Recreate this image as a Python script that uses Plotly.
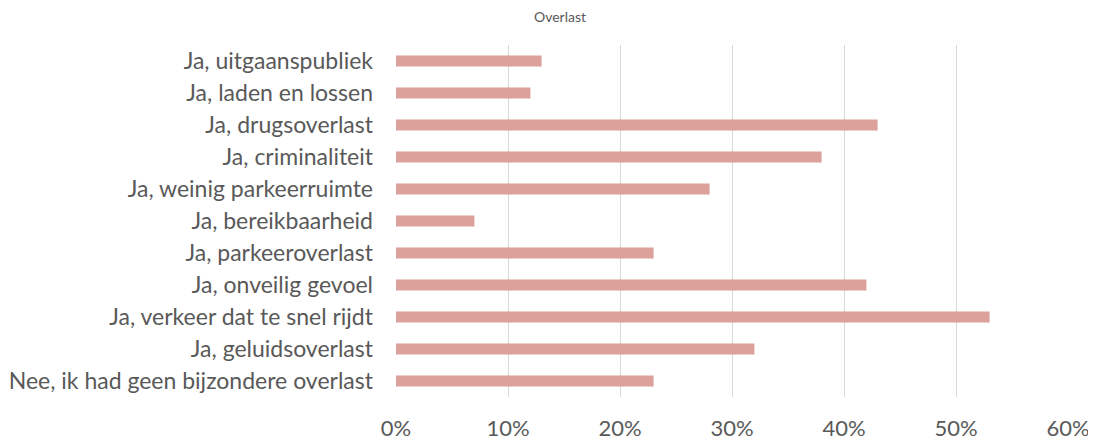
import plotly.graph_objects as go

categories = [
    "Ja, uitgaanspubliek",
    "Ja, laden en lossen",
    "Ja, drugsoverlast",
    "Ja, criminaliteit",
    "Ja, weinig parkeerruimte",
    "Ja, bereikbaarheid",
    "Ja, parkeeroverlast",
    "Ja, onveilig gevoel",
    "Ja, verkeer dat te snel rijdt",
    "Ja, geluidsoverlast",
    "Nee, ik had geen bijzondere overlast",
]
shares = [0.13, 0.12, 0.43, 0.38, 0.28, 0.07, 0.23, 0.42, 0.53, 0.32, 0.23]
x_ticks = [0, 0.1, 0.2, 0.3, 0.4, 0.5, 0.6]

fig = go.Figure(
    go.Bar(
        x=shares,
        y=categories,
        orientation="h",
        marker=dict(color="#dba19a", line=dict(width=0)),
        width=0.35,
    )
)

# page body adds 8px on top/left, so the figure is 8px smaller than the window
fig.update_layout(
    width=1088,
    height=435,
    margin=dict(l=388, r=28, t=37, b=46),
    paper_bgcolor="white",
    plot_bgcolor="white",
    font=dict(family="Lato, Open Sans, sans-serif", color="#595959", size=23),
    showlegend=False,
)
# chart title sits just above the plot area
fig.add_annotation(
    text="Overlast",
    xref="paper",
    yref="paper",
    x=0.244,
    y=1.08,
    xanchor="center",
    yanchor="middle",
    showarrow=False,
    font=dict(size=14, color="#595959"),
)
fig.update_xaxes(
    range=[0, 0.6],
    tickvals=x_ticks,
    tickformat=".0%",
    tickfont=dict(size=22),
    showgrid=True,
    gridcolor="#d9d9d9",
    gridwidth=1,
    zeroline=False,
    showline=False,
    automargin=False,
    ticklabelstandoff=16,
)
fig.update_yaxes(
    autorange="reversed",
    showgrid=False,
    showline=False,
    automargin=False,
    ticklabelstandoff=22,
)

fig.write_html("out.html")
